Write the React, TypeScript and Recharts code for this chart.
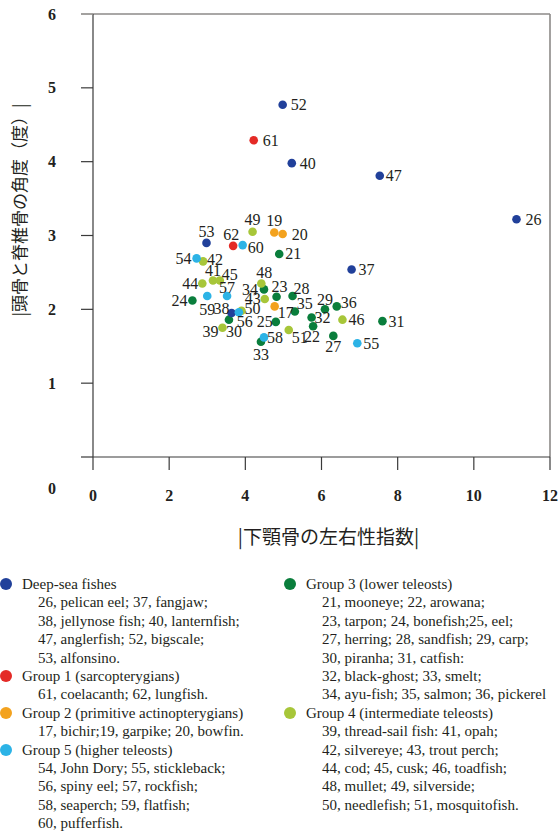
import { Label, ReferenceLine, Scatter, ScatterChart, XAxis, YAxis } from "recharts";

const X_TICKS = [0, 2, 4, 6, 8, 10, 12];
const Y_TICKS = [0, 1, 2, 3, 4, 5, 6];

// Deep-sea fishes
const deepSeaIds = [26, 37, 38, 40, 47, 52, 53];
const deepSeaX = [11.12, 6.79, 3.64, 5.22, 7.53, 4.98, 2.98];
const deepSeaY = [3.22, 2.54, 1.95, 3.98, 3.81, 4.77, 2.9];

// Group 1 (sarcopterygians)
const group1Ids = [61, 62];
const group1X = [4.22, 3.68];
const group1Y = [4.29, 2.86];

// Group 2 (primitive actinopterygians)
const group2Ids = [17, 19, 20];
const group2X = [4.77, 4.76, 4.98];
const group2Y = [2.04, 3.04, 3.02];

// Group 3 (lower teleosts)
const group3Ids = [21, 22, 23, 24, 25, 27, 28, 29, 30, 31, 32, 33, 34, 35, 36];
const group3X = [4.89, 5.78, 4.82, 2.61, 4.8, 6.31, 5.24, 6.09, 3.57, 7.6, 5.74, 4.41, 4.49, 5.3, 6.4];
const group3Y = [2.75, 1.77, 2.17, 2.12, 1.83, 1.64, 2.18, 2.0, 1.86, 1.84, 1.89, 1.56, 2.27, 1.97, 2.04];

// Group 4 (intermediate teleosts)
const group4Ids = [39, 41, 42, 43, 44, 45, 46, 48, 49, 50, 51];
const group4X = [3.4, 3.15, 2.89, 4.51, 2.87, 3.33, 6.55, 4.42, 4.19, 3.9, 5.14];
const group4Y = [1.75, 2.39, 2.65, 2.14, 2.35, 2.39, 1.86, 2.35, 3.05, 1.98, 1.72];

// Group 5 (higher teleosts)
const group5Ids = [54, 55, 56, 57, 58, 59, 60];
const group5X = [2.72, 6.94, 3.83, 3.52, 4.49, 3.0, 3.93];
const group5Y = [2.69, 1.54, 1.96, 2.18, 1.62, 2.18, 2.87];

// legend text
const deepSeaTitle = "Deep-sea fishes";
const deepSeaNames = [
  "26, pelican eel; 37, fangjaw;",
  "38, jellynose fish; 40, lanternfish;",
  "47, anglerfish; 52, bigscale;",
  "53, alfonsino.",
];
const group1Title = "Group 1 (sarcopterygians)";
const group1Names = ["61, coelacanth; 62, lungfish."];
const group2Title = "Group 2 (primitive actinopterygians)";
const group2Names = ["17, bichir;19, garpike; 20, bowfin."];
const group5Title = "Group 5 (higher teleosts)";
const group5Names = [
  "54, John Dory; 55, stickleback;",
  "56, spiny eel; 57, rockfish;",
  "58, seaperch; 59, flatfish;",
  "60, pufferfish.",
];
const group3Title = "Group 3 (lower teleosts)";
const group3Names = [
  "21, mooneye; 22, arowana;",
  "23, tarpon; 24, bonefish;25, eel;",
  "27, herring; 28, sandfish; 29, carp;",
  "30, piranha; 31, catfish:",
  "32, black-ghost; 33, smelt;",
  "34, ayu-fish; 35, salmon; 36, pickerel",
];
const group4Title = "Group 4 (intermediate teleosts)";
const group4Names = [
  "39, thread-sail fish: 41, opah;",
  "42, silvereye; 43, trout perch;",
  "44, cod; 45, cusk; 46, toadfish;",
  "48, mullet; 49, silverside;",
  "50, needlefish; 51, mosquitofish.",
];

const C_DEEP = "#21409a";
const C_G1 = "#e42a26";
const C_G2 = "#f3a21e";
const C_G3 = "#0a7e3c";
const C_G4 = "#a7c639";
const C_G5 = "#2cb3e6";

const INK = "#231f20";
const AXIS_DARK = "#3a3a3a";
const BORDER_GREY = "#8c8a88";
const SERIF = "'Liberation Serif', 'Times New Roman', serif";
const CJK = "'Noto Sans CJK JP', 'Noto Sans', sans-serif";

// where each number sits next to its dot: [dx, dy, anchor]
const LABEL_PLACE: Record<number, [number, number, "start" | "middle" | "end"]> = {
  52: [8, 0, "start"], 61: [9, 0, "start"], 40: [8, 0, "start"], 47: [6, 0, "start"],
  26: [9, 0, "start"], 49: [0, -12, "middle"], 19: [0, -12, "middle"], 20: [9, 0, "start"],
  53: [0, -11, "middle"], 62: [-2, -11, "middle"], 60: [5, 2, "start"], 21: [6, 0, "start"],
  54: [-5, 0, "end"], 42: [4, -2, "start"], 37: [7, 0, "start"], 41: [0, -10, "middle"],
  45: [2, -6, "start"], 44: [-4, 0, "end"], 48: [3, -11, "middle"], 34: [-6, 0, "end"],
  57: [0, -9, "middle"], 59: [0, 13, "middle"], 24: [-5, 0, "end"], 43: [-4, 0, "end"],
  23: [3, -10, "middle"], 28: [1, -8, "start"], 17: [3, 6, "start"], 35: [2, -8, "start"],
  29: [0, -10, "middle"], 36: [4, -4, "start"], 38: [-2, -5, "end"], 50: [3, -2, "start"],
  56: [-2, 9, "start"], 30: [-3, 12, "start"], 39: [-4, 4, "end"], 32: [3, 0, "start"],
  46: [6, 0, "start"], 31: [6, 0, "start"], 25: [-3, 0, "end"], 51: [3, 7, "start"],
  22: [-1, 10, "middle"], 27: [0, 11, "middle"], 55: [6, 0, "start"], 58: [3, 0, "start"],
  33: [0, 13, "middle"],
};

type Pt = { id: number; x: number; y: number };

const toPoints = (ids: number[], xs: number[], ys: number[]): Pt[] =>
  ids.map((id, i) => ({ id, x: xs[i], y: ys[i] }));

const SERIES = [
  { name: "Group 3", color: C_G3, data: toPoints(group3Ids, group3X, group3Y) },
  { name: "Group 4", color: C_G4, data: toPoints(group4Ids, group4X, group4Y) },
  { name: "Group 2", color: C_G2, data: toPoints(group2Ids, group2X, group2Y) },
  { name: "Deep-sea", color: C_DEEP, data: toPoints(deepSeaIds, deepSeaX, deepSeaY) },
  { name: "Group 1", color: C_G1, data: toPoints(group1Ids, group1X, group1Y) },
  { name: "Group 5", color: C_G5, data: toPoints(group5Ids, group5X, group5Y) },
];

function dotShape(color: string) {
  return (props: any) => {
    const { cx, cy, payload } = props;
    const place = LABEL_PLACE[payload.id] ?? [6, 0, "start"];
    return (
      <g>
        <circle cx={cx} cy={cy} r={4.3} fill={color} />
        <text
          x={cx + place[0]}
          y={cy + place[1]}
          textAnchor={place[2]}
          dominantBaseline="central"
          fontFamily={SERIF}
          fontSize={16}
          fill={INK}
        >
          {payload.id}
        </text>
      </g>
    );
  };
}

function YTick(props: any) {
  const { x, y, payload } = props;
  const v = payload.value;
  // the zero label is pushed down level with the x tick labels
  const ty = v === 0 ? y + 31 : y;
  return (
    <g>
      <line x1={x - 12} x2={x} y1={y} y2={y} stroke={v === 6 ? BORDER_GREY : AXIS_DARK} strokeWidth={v === 6 ? 1.6 : 1.2} />
      <text x={x - 41} y={ty} textAnchor="middle" dominantBaseline="central" fontFamily={SERIF} fontWeight="bold" fontSize={16} fill={INK}>
        {v}
      </text>
    </g>
  );
}

function XTick(props: any) {
  const { x, y, payload } = props;
  return (
    <text x={x} y={y + 25} textAnchor="middle" dominantBaseline="central" fontFamily={SERIF} fontWeight="bold" fontSize={16} fill={INK}>
      {payload.value}
    </text>
  );
}

function LegendColumn({
  left,
  groups,
}: {
  left: number;
  groups: { color: string; title: string; names: string[] }[];
}) {
  return (
    <div style={{ position: "absolute", left, top: 575, fontFamily: SERIF, fontSize: 15, lineHeight: "18.4px", color: INK, whiteSpace: "nowrap" }}>
      {groups.map((g) => (
        <div key={g.title}>
          <div style={{ position: "relative", paddingLeft: 22 }}>
            <span
              style={{
                position: "absolute",
                left: 0,
                top: 3.2,
                width: 12,
                height: 12,
                borderRadius: "50%",
                background: g.color,
              }}
            />
            {g.title}
          </div>
          {g.names.map((n) => (
            <div key={n} style={{ paddingLeft: 38 }}>
              {n}
            </div>
          ))}
        </div>
      ))}
    </div>
  );
}

export default function App() {
  return (
    <div style={{ position: "absolute", left: 0, top: 0, width: 560, height: 831, overflow: "hidden", background: "#fff" }}>
      <ScatterChart width={560} height={560} margin={{ top: 14, right: 10, bottom: 0, left: 0 }}>
        <XAxis
          type="number"
          dataKey="x"
          domain={[0, 12]}
          ticks={X_TICKS}
          interval={0}
          height={103}
          tickSize={13}
          tickMargin={0}
          tick={<XTick />}
          tickLine={{ stroke: AXIS_DARK, strokeWidth: 1.2 }}
          axisLine={{ stroke: AXIS_DARK, strokeWidth: 1.2 }}
        >
          <Label
            content={(p: any) => {
              const vb = p.viewBox;
              return (
                <text x={vb.x + vb.width / 2 + 7} y={535} textAnchor="middle" dominantBaseline="central" fontFamily={CJK} fontSize={19} fill={INK}>
                  |下顎骨の左右性指数|
                </text>
              );
            }}
          />
        </XAxis>
        <YAxis
          type="number"
          dataKey="y"
          domain={[0, 6]}
          ticks={Y_TICKS}
          interval={0}
          width={93}
          tickSize={0}
          tickMargin={0}
          tick={<YTick />}
          tickLine={false}
          axisLine={{ stroke: AXIS_DARK, strokeWidth: 1.2 }}
        >
          <Label
            content={() => (
              <text x={18} y={210} transform="rotate(-90 18 210)" textAnchor="middle" dominantBaseline="central" fontFamily={CJK} fontSize={17} fill={INK}>
                |頭骨と脊椎骨の角度（度）|
              </text>
            )}
          />
        </YAxis>
        <ReferenceLine y={6} stroke={BORDER_GREY} strokeWidth={1.6} />
        <ReferenceLine x={12} stroke={BORDER_GREY} strokeWidth={1.6} />
        {SERIES.map((s) => (
          <Scatter key={s.name} name={s.name} data={s.data} shape={dotShape(s.color)} isAnimationActive={false} />
        ))}
      </ScatterChart>
      <LegendColumn
        left={0}
        groups={[
          { color: C_DEEP, title: deepSeaTitle, names: deepSeaNames },
          { color: C_G1, title: group1Title, names: group1Names },
          { color: C_G2, title: group2Title, names: group2Names },
          { color: C_G5, title: group5Title, names: group5Names },
        ]}
      />
      <LegendColumn
        left={284}
        groups={[
          { color: C_G3, title: group3Title, names: group3Names },
          { color: C_G4, title: group4Title, names: group4Names },
        ]}
      />
    </div>
  );
}
